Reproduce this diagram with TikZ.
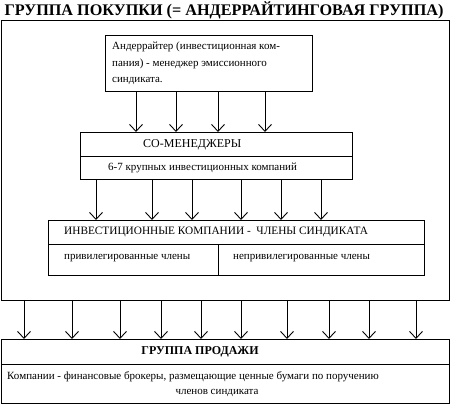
\documentclass[tikz,border=0pt]{standalone}
\usepackage{fontspec}
\setmainfont{Liberation Serif}
\usetikzlibrary{arrows.meta}
\begin{document}
\begin{tikzpicture}[x=1pt,y=-1pt,
  box/.style={draw,line width=1pt,anchor=north west,inner sep=0pt,rectangle},
  arr/.style={line width=0.9pt,-{Straight Barb[length=7pt,width=13pt,line width=0.9pt]}},
  txt/.style={anchor=west,inner sep=0pt,font=\fontsize{11}{13}\selectfont},
  ln/.style={line width=1pt}]
\useasboundingbox (0,0) rectangle (450,404);
% title
\node[inner sep=0pt,font=\fontsize{16.2}{18}\selectfont\bfseries] (title) at (224,10) {ГРУППА ПОКУПКИ (= АНДЕРРАЙТИНГОВАЯ ГРУППА)};
% outer box
\node[box,minimum width=448pt,minimum height=280pt] (outer) at (1,20) {};
% underwriter box
\node[box,minimum width=207pt,minimum height=56pt] (ub) at (105,35) {};
\node[txt] (ut1) at (112,47) {Андеррайтер (инвестиционная ком-};
\node[txt] (ut2) at (112,64) {пания) - менеджер эмиссионного};
\node[txt] (ut3) at (112,81) {синдиката.};
% co-managers
\node[box,minimum width=272pt,minimum height=47pt] (cm) at (80,132) {};
\coordinate (cmdl) at (80,156);
\coordinate (cmdr) at (352,156);
\draw[ln] (cmdl) -- (cmdr);
\node[txt,font=\fontsize{12}{14}\selectfont] (cmt1) at (143,145) {СО-МЕНЕДЖЕРЫ};
\node[txt] (cmt2) at (108,168) {6-7 крупных инвестиционных компаний};
% members
\node[box,minimum width=376pt,minimum height=55pt] (mb) at (48,220) {};
\coordinate (mbdl) at (48,244);
\coordinate (mbdr) at (424,244);
\coordinate (mbv) at (218,275);
\draw[ln] (mbdl) -- (mbdr);
\draw[ln] (mbdl -| mbv) -- (mbv);
\node[txt,font=\fontsize{11.3}{13}\selectfont] (mbt1) at (64,232) {ИНВЕСТИЦИОННЫЕ КОМПАНИИ -\ \ ЧЛЕНЫ СИНДИКАТА};
\node[txt] (mbt2) at (64,258) {привилегированные члены};
\node[txt] (mbt3) at (233,258) {непривилегированные члены};
% sale group
\node[box,minimum width=448pt,minimum height=64pt] (sb) at (1,339) {};
\coordinate (sbdl) at (1,364);
\coordinate (sbdr) at (449,364);
\draw[ln] (sbdl) -- (sbdr);
\node[inner sep=0pt,font=\fontsize{12}{14}\selectfont\bfseries] (sbt1) at (200,352) {ГРУППА ПРОДАЖИ};
\node[txt] (sbt2) at (7,377) {Компании - финансовые брокеры, размещающие ценные бумаги по поручению};
\node[inner sep=0pt,font=\fontsize{11}{13}\selectfont] (sbt3) at (217,393) {членов синдиката};
% arrows underwriter -> co-managers
\foreach \x in {136,176,218,265} \draw[arr] (ub.south -| \x,0) -- (cm.north -| \x,0);
% arrows co-managers -> members
\foreach \x in {96,152,192,241,281,321} \draw[arr] (cm.south -| \x,0) -- (mb.north -| \x,0);
% arrows outer -> sale group
\foreach \x in {24,72,120,161,201,241,287,329,369,416} \draw[arr] (outer.south -| \x,0) -- (sb.north -| \x,0);
\end{tikzpicture}
\end{document}
